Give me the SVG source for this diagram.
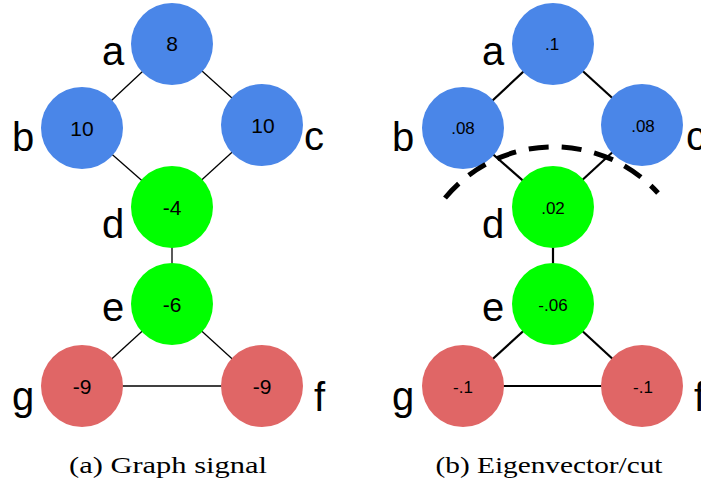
<svg xmlns="http://www.w3.org/2000/svg" width="701" height="485" viewBox="0 0 701 485">
  <style>
    .bg { fill: #ffffff; }
    .blue { fill: #4a86e8; }
    .green { fill: #00ff00; }
    .red { fill: #e06666; }
    .edge-a { stroke: #000; stroke-width: 1.3; fill: none; }
    .edge-b { stroke: #000; stroke-width: 2.2; fill: none; }
    .cut { stroke: #000; stroke-width: 5; fill: none; stroke-dasharray: 20 13; }
    .val { font-family: "Liberation Sans", Arial, sans-serif; font-size: 21px; text-anchor: middle; fill: #000; }
    .val-s { font-family: "Liberation Sans", Arial, sans-serif; font-size: 17px; text-anchor: middle; fill: #000; }
    .lbl { font-family: "Liberation Sans", Arial, sans-serif; font-size: 40px; fill: #000; }
    .cap { font-family: "Liberation Serif", "Times New Roman", serif; font-size: 24px; fill: #000; }
  </style>
  <rect class="bg" x="0" y="0" width="701" height="485"/>

  <!-- Left: graph signal -->
  <g id="edges-signal">
    <line class="edge-a" x1="172" y1="44" x2="82" y2="128"/>
    <line class="edge-a" x1="172" y1="44" x2="262" y2="125"/>
    <line class="edge-a" x1="82" y1="128" x2="172" y2="207"/>
    <line class="edge-a" x1="262" y1="125" x2="172" y2="207"/>
    <line class="edge-a" x1="172" y1="207" x2="172" y2="304"/>
    <line class="edge-a" x1="172" y1="304" x2="82" y2="386"/>
    <line class="edge-a" x1="172" y1="304" x2="262" y2="386"/>
    <line class="edge-a" x1="82" y1="386" x2="262" y2="386"/>
  </g>
  <g id="sig-a"><circle class="blue" cx="172" cy="44" r="41"/><text class="val" x="172" y="51">8</text><text class="lbl" x="102" y="65">a</text></g>
  <g id="sig-b"><circle class="blue" cx="82" cy="128" r="41"/><text class="val" x="82" y="136">10</text><text class="lbl" x="12" y="151">b</text></g>
  <g id="sig-c"><circle class="blue" cx="262" cy="125" r="41"/><text class="val" x="263" y="133">10</text><text class="lbl" x="304" y="150">c</text></g>
  <g id="sig-d"><circle class="green" cx="172" cy="207" r="41"/><text class="val" x="172" y="215">-4</text><text class="lbl" x="102" y="238">d</text></g>
  <g id="sig-e"><circle class="green" cx="172" cy="304" r="41"/><text class="val" x="172" y="312">-6</text><text class="lbl" x="102" y="321">e</text></g>
  <g id="sig-g"><circle class="red" cx="82" cy="386" r="41"/><text class="val" x="82" y="394">-9</text><text class="lbl" x="12" y="410">g</text></g>
  <g id="sig-f"><circle class="red" cx="262" cy="386" r="41"/><text class="val" x="262" y="394">-9</text><text class="lbl" x="314" y="411">f</text></g>
  <text class="cap" x="168" y="473" text-anchor="middle" textLength="198" lengthAdjust="spacingAndGlyphs">(a) Graph signal</text>

  <!-- Right: eigenvector and cut -->
  <g id="edges-eigen">
    <line class="edge-b" x1="553" y1="44" x2="463" y2="128"/>
    <line class="edge-b" x1="553" y1="44" x2="642" y2="125"/>
    <line class="edge-b" x1="463" y1="128" x2="553" y2="207"/>
    <line class="edge-b" x1="642" y1="125" x2="553" y2="207"/>
    <line class="edge-b" x1="553" y1="207" x2="553" y2="304"/>
    <line class="edge-b" x1="553" y1="304" x2="463" y2="386"/>
    <line class="edge-b" x1="553" y1="304" x2="642" y2="386"/>
    <line class="edge-b" x1="463" y1="386" x2="642" y2="386"/>
  </g>
  <g id="eig-a"><circle class="blue" cx="553" cy="44" r="41"/><text class="val-s" x="552" y="50">.1</text><text class="lbl" x="482" y="65">a</text></g>
  <g id="eig-b"><circle class="blue" cx="463" cy="128" r="41"/><text class="val-s" x="463" y="134">.08</text><text class="lbl" x="392" y="151">b</text></g>
  <g id="eig-c"><circle class="blue" cx="642" cy="125" r="41"/><text class="val-s" x="643" y="132">.08</text><text class="lbl" x="686" y="150">c</text></g>
  <g id="eig-d"><circle class="green" cx="553" cy="207" r="41"/><text class="val-s" x="553" y="214">.02</text><text class="lbl" x="482" y="238">d</text></g>
  <g id="eig-e"><circle class="green" cx="553" cy="304" r="41"/><text class="val-s" x="553" y="311">-.06</text><text class="lbl" x="482" y="321">e</text></g>
  <g id="eig-g"><circle class="red" cx="463" cy="386" r="41"/><text class="val-s" x="463" y="393">-.1</text><text class="lbl" x="392" y="410">g</text></g>
  <g id="eig-f"><circle class="red" cx="642" cy="386" r="41"/><text class="val-s" x="643" y="393">-.1</text><text class="lbl" x="694" y="411">f</text></g>
  <path id="cut" class="cut" d="M 445 198 A 141 141 0 0 1 658 193"/>
  <text class="cap" x="549" y="473" text-anchor="middle" textLength="227" lengthAdjust="spacingAndGlyphs">(b) Eigenvector/cut</text>
</svg>
